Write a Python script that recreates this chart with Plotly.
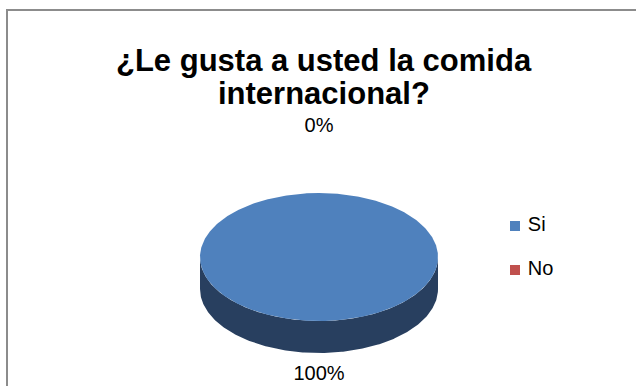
import numpy as np
import plotly.graph_objects as go

# ---- data ----
categories = ["Si", "No"]
values = [100, 0]
colors = ["#4F81BD", "#C0504D"]
side_colors = ["#283F5F", "#7D3230"]
title_lines = ["¿Le gusta a usted la comida", "internacional?"]

# ---- geometry / style (pixels, y downward) ----
W, H = 636, 386
CX, CY, RX, RY, DEPTH = 319, 257, 119, 64, 32
LCX, LCY, LRX, LRY = 319, 251, 150, 124
FONT = "Liberation Sans, Arial, sans-serif"

fig = go.Figure()
total = float(sum(values))
start = 0.0
label_x, label_y, label_t = [], [], []
side_traces, top_traces = [], []
for cat, v, c, sc in zip(categories, values, colors, side_colors):
    a0 = start
    a1 = start + 2 * np.pi * v / total
    start = a1
    if v > 0:
        lo, hi = max(a0, np.pi / 2), min(a1, 3 * np.pi / 2)
        if hi > lo:
            ts = np.linspace(lo, hi, 240)
            sx = CX + RX * np.sin(ts)
            sy = CY - RY * np.cos(ts)
            side_traces.append(go.Scatter(
                x=np.concatenate([sx, sx[::-1]]),
                y=np.concatenate([sy, sy[::-1] + DEPTH]),
                fill="toself", fillcolor=sc, mode="lines",
                line=dict(width=0, color=sc), hoverinfo="skip", showlegend=False))
        th = np.linspace(a0, a1, 481)
        tx = CX + RX * np.sin(th)
        ty = CY - RY * np.cos(th)
        if a1 - a0 < 2 * np.pi - 1e-9:
            tx = np.concatenate([[CX], tx, [CX]])
            ty = np.concatenate([[CY], ty, [CY]])
        top_traces.append(go.Scatter(
            x=tx, y=ty, fill="toself", fillcolor=c, mode="lines",
            line=dict(width=0, color=c), name=cat, hoverinfo="name", showlegend=False))
    mid = (a0 + a1) / 2
    label_x.append(LCX + LRX * np.sin(mid))
    label_y.append(LCY - LRY * np.cos(mid))
    label_t.append(f"{round(100 * v / total)}%")

for t in side_traces + top_traces:
    fig.add_trace(t)

fig.add_trace(go.Scatter(
    x=label_x, y=label_y, text=label_t, mode="text", textposition="middle center",
    textfont=dict(family=FONT, size=20, color="#000000"), hoverinfo="skip", showlegend=False))

# manual legend
LEG_X, LEG_Y0, LEG_DY = 515, 226, 44
fig.add_trace(go.Scatter(
    x=[LEG_X] * len(categories),
    y=[LEG_Y0 + i * LEG_DY for i in range(len(categories))],
    text=[" " + c for c in categories], mode="markers+text", textposition="middle right",
    marker=dict(symbol="square", size=10, color=colors, line=dict(width=0)),
    textfont=dict(family=FONT, size=20, color="#000000"), hoverinfo="skip", showlegend=False))

# title
for i, line in enumerate(title_lines):
    fig.add_annotation(x=324, y=60 + 33 * i, xref="x", yref="y", text=f"<b>{line}</b>",
                       showarrow=False, xanchor="center", yanchor="middle",
                       font=dict(family=FONT, size=31, color="#000000"))

# chart border
fig.add_shape(type="rect", x0=7, y0=10, x1=W + 10, y1=H + 10, xref="x", yref="y",
              line=dict(color="#8C8C8C", width=2), fillcolor="rgba(0,0,0,0)", layer="above")

fig.update_layout(
    width=W, height=H, margin=dict(l=0, r=0, t=0, b=0),
    paper_bgcolor="white", plot_bgcolor="white", showlegend=False,
    xaxis=dict(range=[0, W], visible=False, fixedrange=True),
    yaxis=dict(range=[H, 0], visible=False, fixedrange=True),
)
fig.write_html("out.html")
